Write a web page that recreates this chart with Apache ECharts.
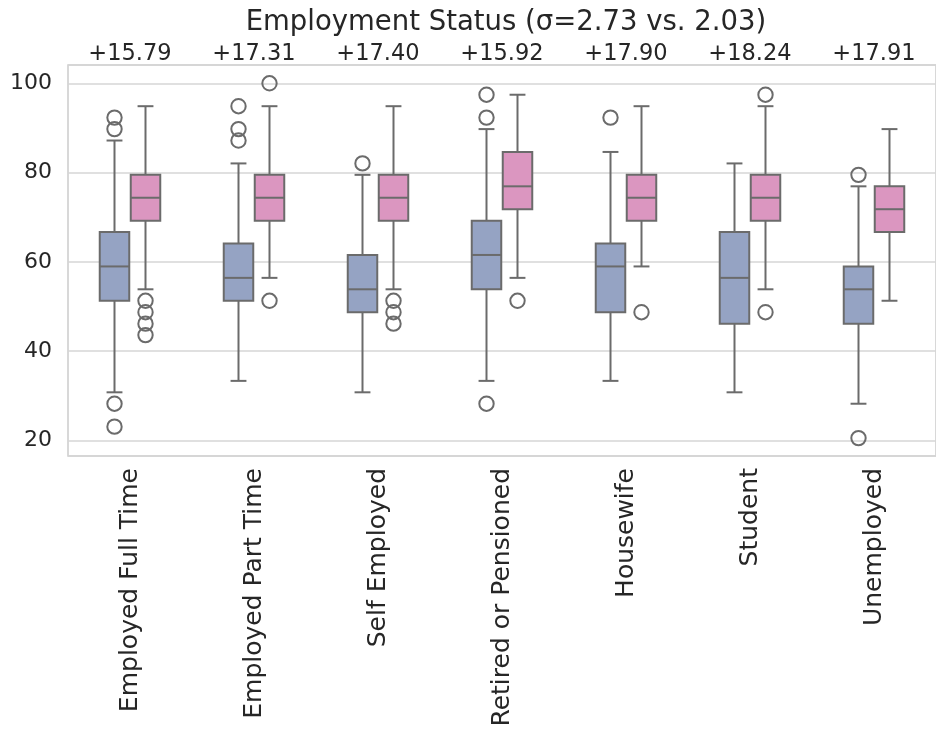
<!DOCTYPE html>
<html>
<head>
<meta charset="utf-8">
<script src="https://cdn.jsdelivr.net/npm/echarts@6/dist/echarts.min.js"></script>
<style>html,body{margin:0;padding:0;background:#fff}#c{width:936px;height:731px}</style>
</head>
<body>
<div id="c"></div>
<script>
const categories = ['Employed Full Time','Employed Part Time','Self Employed','Retired or Pensioned','Housewife','Student','Unemployed'];
const diffLabels = ['+15.79','+17.31','+17.40','+15.92','+17.90','+18.24','+17.91'];
// [lower whisker, q1, median, q3, upper whisker]
const blueStats = [
  [30.77, 51.28, 58.97, 66.67, 87.18],
  [33.33, 51.28, 56.41, 64.10, 82.05],
  [30.77, 48.72, 53.85, 61.54, 79.49],
  [33.33, 53.85, 61.54, 69.23, 89.74],
  [33.33, 48.72, 58.97, 64.10, 84.62],
  [30.77, 46.15, 56.41, 66.67, 82.05],
  [28.21, 46.15, 53.85, 58.97, 76.92]
];
const pinkStats = [
  [53.85, 69.23, 74.36, 79.49, 94.87],
  [56.41, 69.23, 74.36, 79.49, 94.87],
  [53.85, 69.23, 74.36, 79.49, 94.87],
  [56.41, 71.79, 76.92, 84.62, 97.44],
  [58.97, 69.23, 74.36, 79.49, 94.87],
  [53.85, 69.23, 74.36, 79.49, 94.87],
  [51.28, 66.67, 71.79, 76.92, 89.74]
];
const blueOutliers = [
  [92.31, 89.74, 28.21, 23.08],
  [94.87, 89.74, 87.18],
  [82.05],
  [97.44, 92.31, 28.21],
  [92.31],
  [],
  [79.49, 20.51]
];
const pinkOutliers = [
  [51.28, 48.72, 46.15, 43.59],
  [100, 51.28],
  [51.28, 48.72, 46.15],
  [51.28],
  [48.72],
  [97.44, 48.72],
  []
];
const titleText = 'Employment Status (σ=2.73 vs. 2.03)';

const groupColors = ['#95a3c3', '#db96c0'];
const edge = '#6b6b6b';
const FONT = 'DejaVu Sans';

const boxData = [];
[blueStats, pinkStats].forEach((stats, g) => {
  stats.forEach((s, i) => boxData.push([i, g].concat(s)));
});
const outData = [];
[blueOutliers, pinkOutliers].forEach((outs, g) => {
  outs.forEach((arr, i) => arr.forEach(v => outData.push([i, g, v])));
});

const OFF = 0.125;
function renderBox(params, api) {
  const i = api.value(0), g = api.value(1);
  const band = api.size([1, 0])[0];
  const cx = api.coord([i, 0])[0] + (g === 0 ? -OFF : OFF) * band;
  const yv = k => api.coord([i, api.value(k)])[1];
  const yLo = yv(2), yQ1 = yv(3), yMed = yv(4), yQ3 = yv(5), yHi = yv(6);
  const hw = 0.119 * band;
  const cw = 0.064 * band;
  const ls = {stroke: edge, lineWidth: 2, fill: null};
  return {
    type: 'group',
    children: [
      {type: 'line', shape: {x1: cx, y1: yQ3, x2: cx, y2: yHi}, style: ls},
      {type: 'line', shape: {x1: cx, y1: yQ1, x2: cx, y2: yLo}, style: ls},
      {type: 'line', shape: {x1: cx - cw, y1: yHi, x2: cx + cw, y2: yHi}, style: ls},
      {type: 'line', shape: {x1: cx - cw, y1: yLo, x2: cx + cw, y2: yLo}, style: ls},
      {type: 'rect', shape: {x: cx - hw, y: yQ3, width: 2 * hw, height: yQ1 - yQ3},
        style: {fill: groupColors[g], stroke: edge, lineWidth: 2}},
      {type: 'line', shape: {x1: cx - hw, y1: yMed, x2: cx + hw, y2: yMed}, style: ls}
    ]
  };
}
function renderOut(params, api) {
  const i = api.value(0), g = api.value(1);
  const band = api.size([1, 0])[0];
  const p = api.coord([i, api.value(2)]);
  const cx = p[0] + (g === 0 ? -OFF : OFF) * band;
  return {type: 'circle', shape: {cx: cx, cy: p[1], r: 7.2},
    style: {fill: 'rgba(255,255,255,0)', stroke: edge, lineWidth: 2}};
}

const chart = echarts.init(document.getElementById('c'), null, {renderer: 'canvas'});
chart.setOption({
  animation: false,
  backgroundColor: '#ffffff',
  title: {
    text: titleText, left: 501, top: 4, textAlign: 'center',
    textStyle: {fontFamily: FONT, fontSize: 27.5, fontWeight: 'normal', color: '#262626'}
  },
  grid: {left: 68, top: 65, right: 0, bottom: 275, show: true, borderColor: '#cccccc', borderWidth: 1.5},
  xAxis: [
    {type: 'category', data: categories, boundaryGap: true, position: 'bottom',
      axisLine: {show: false}, axisTick: {show: false}, splitLine: {show: false},
      axisLabel: {rotate: 90, margin: 12, fontFamily: FONT, fontSize: 25, color: '#262626', interval: 0}},
    {type: 'category', data: diffLabels, boundaryGap: true, position: 'top',
      axisLine: {show: false}, axisTick: {show: false}, splitLine: {show: false},
      axisLabel: {margin: -1, fontFamily: FONT, fontSize: 22.5, color: '#262626', interval: 0}}
  ],
  yAxis: {
    type: 'value', min: 16.5, max: 104.1, splitNumber: 5,
    axisLine: {show: false}, axisTick: {show: false},
    splitLine: {lineStyle: {color: '#d6d6d6', width: 1.5}},
    axisLabel: {margin: 16, fontFamily: FONT, fontSize: 22, color: '#262626', showMinLabel: false, showMaxLabel: false}
  },
  series: [
    {type: 'custom', xAxisIndex: 0, renderItem: renderBox, data: boxData,
      encode: {x: 0, y: [2, 3, 4, 5, 6]}, z: 3},
    {type: 'custom', xAxisIndex: 0, renderItem: renderOut, data: outData,
      encode: {x: 0, y: 2}, z: 4}
  ]
});
</script>
</body>
</html>
